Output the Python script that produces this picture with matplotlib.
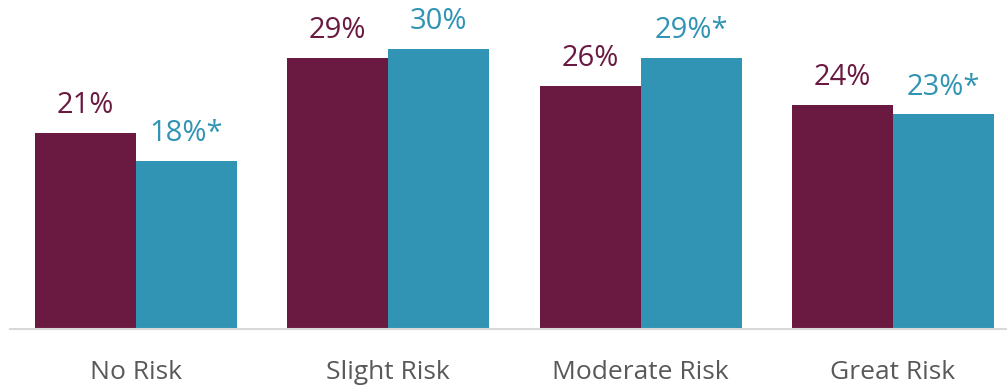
import matplotlib.pyplot as plt
import numpy as np

categories = ["No Risk", "Slight Risk", "Moderate Risk", "Great Risk"]
series_a = [21, 29, 26, 24]
series_b = [18, 30, 29, 23]
labels_a = ["21%", "29%", "26%", "24%"]
labels_b = ["18%*", "30%", "29%*", "23%*"]

MAROON = "#6A1A40"
TEAL = "#3194B4"

plt.rcParams["font.family"] = ["Open Sans", "DejaVu Sans"]

fig = plt.figure(figsize=(10.07, 3.85), dpi=100)
ax = fig.add_axes([10 / 1007, 56 / 385, 997 / 1007, 329 / 385])

x = np.arange(len(categories))
w = 0.4
ax.bar(x - w / 2, series_a, width=w, color=MAROON)
ax.bar(x + w / 2, series_b, width=w, color=TEAL)

for xi, va, vb, la, lb in zip(x, series_a, series_b, labels_a, labels_b):
    ax.annotate(la, (xi - w / 2, va), xytext=(0, 9), textcoords="offset points",
                ha="center", va="bottom", fontsize=21, color=MAROON)
    ax.annotate(lb, (xi + w / 2, vb), xytext=(0, 9), textcoords="offset points",
                ha="center", va="bottom", fontsize=21, color=TEAL)

ax.set_xlim(-0.4994, 3.452)
ax.set_ylim(0, 35.2)
for side in ["top", "right", "left"]:
    ax.spines[side].set_visible(False)
ax.spines["bottom"].set_color("#D9D9D9")
ax.spines["bottom"].set_linewidth(1.5)
ax.set_xticks(x)
ax.set_xticklabels(categories)
ax.tick_params(axis="x", length=0, pad=22, labelsize=19, labelcolor="#595959")
ax.set_yticks([])
ax.patch.set_alpha(0)

fig.savefig("out.png", dpi=100)
